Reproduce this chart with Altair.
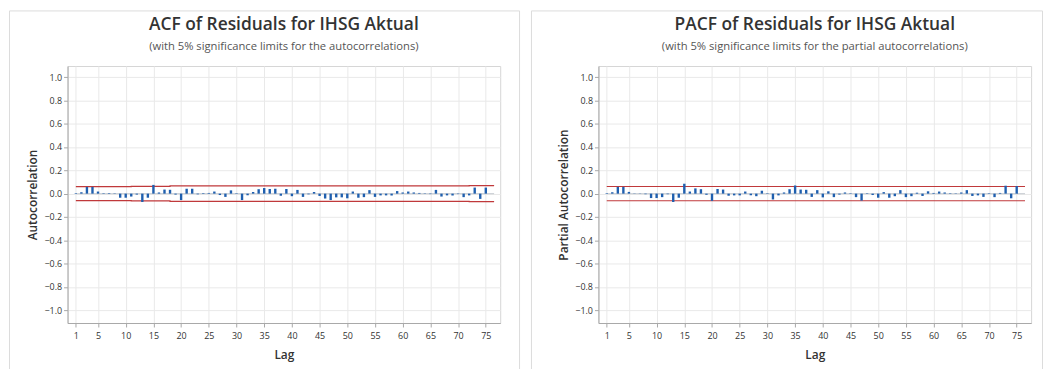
import altair as alt
import pandas as pd

# ---------------- data ----------------
lags = list(range(1, 76))

acf_values = [
    0.005, 0.012, 0.058, 0.058, 0.018, 0.004, 0.005, 0.003, -0.035, -0.035,
    -0.025, -0.008, -0.072, -0.035, 0.075, 0.010, 0.035, 0.033, -0.008, -0.055,
    0.042, 0.042, -0.006, 0.005, 0.006, 0.018, -0.012, -0.028, 0.028, 0.004,
    -0.055, -0.014, 0.014, 0.038, 0.048, 0.040, 0.042, -0.018, 0.040, -0.022,
    0.032, -0.028, -0.006, 0.014, -0.020, -0.042, -0.055, -0.032, -0.032, -0.040,
    0.018, -0.035, -0.030, 0.030, -0.028, -0.015, -0.015, -0.016, 0.022, 0.010,
    0.018, 0.010, 0.006, 0.003, -0.004, 0.032, -0.025, -0.015, -0.016, -0.004,
    -0.030, -0.015, 0.052, -0.045, 0.052,
]

pacf_values = [
    0.005, 0.012, 0.058, 0.058, 0.015, 0.002, 0.002, -0.005, -0.038, -0.038,
    -0.030, -0.005, -0.072, -0.035, 0.085, 0.018, 0.045, 0.038, -0.010, -0.062,
    0.040, 0.035, -0.018, -0.015, -0.015, 0.018, -0.014, -0.022, 0.025, 0.004,
    -0.050, -0.015, 0.010, 0.038, 0.070, 0.035, 0.033, -0.028, 0.030, -0.032,
    0.020, -0.030, -0.008, 0.010, 0.004, -0.030, -0.060, 0.004, -0.012, -0.035,
    0.013, -0.035, -0.022, 0.030, -0.030, -0.022, 0.008, -0.020, 0.020, 0.006,
    0.018, 0.010, 0.004, 0.003, 0.010, 0.030, -0.020, -0.015, -0.028, 0.004,
    -0.030, 0.006, 0.068, -0.040, 0.065,
]

# 5% significance limits (step functions over lag)
acf_limit_lags = [1, 11, 18, 72, 76.5]
acf_limit_values = [0.060, 0.062, 0.066, 0.068, 0.068]
pacf_limit_lags = [1, 76.5]
pacf_limit_values = [0.061, 0.061]

x_ticks = [1, 5, 10, 15, 20, 25, 30, 35, 40, 45, 50, 55, 60, 65, 70, 75]
y_ticks = [-1.0, -0.8, -0.6, -0.4, -0.2, 0.0, 0.2, 0.4, 0.6, 0.8, 1.0]

FONT = "Open Sans"
BAR = "#1f5fae"
RED = "#c0393b"

PLOT_W = 436
PLOT_H = 259


def panel(values, lim_lags, lim_vals, title, subtitle, ytitle, frame_left, frame_right):
    df = pd.DataFrame({"Lag": lags, "r": values})
    lim = pd.DataFrame({"Lag": lim_lags, "up": lim_vals,
                        "lo": [-v for v in lim_vals]})
    ref = pd.DataFrame({"a": [1], "b": [76.5], "z": [0.0]})
    one = pd.DataFrame({"k": [0]})

    xs = alt.Scale(domain=[-0.5, 77.6], nice=False, zero=False)
    ys = alt.Scale(domain=[-1.11, 1.095], nice=False, zero=False)

    xax = alt.Axis(values=x_ticks, title="Lag", grid=True)
    yax = alt.Axis(values=y_ticks, format=".1f", title=ytitle, grid=True)

    frame = alt.Chart(one).mark_rect(
        fillOpacity=0, stroke="#dcdcdc", strokeWidth=1
    ).encode(
        x=alt.value(frame_left), x2=alt.value(frame_right),
        y=alt.value(-55.5), y2=alt.value(318),
    )

    t1 = alt.Chart(one).mark_text(
        text=title, font=FONT, fontSize=17.5, fontWeight=600, color="#333333",
        align="center", baseline="middle",
    ).encode(x=alt.value(PLOT_W / 2), y=alt.value(-41.5))
    t2 = alt.Chart(one).mark_text(
        text=subtitle, font=FONT, fontSize=11.3, color="#555555",
        align="center", baseline="middle",
    ).encode(x=alt.value(PLOT_W / 2), y=alt.value(-19.5))

    zero = alt.Chart(ref).mark_rule(color="#cfd3d8", strokeWidth=1.2).encode(
        x=alt.X("a:Q", scale=xs, axis=xax), x2="b:Q",
        y=alt.Y("z:Q", scale=ys, axis=yax),
    )

    bars = alt.Chart(df).mark_rule(color=BAR, strokeWidth=2.4).encode(
        x=alt.X("Lag:Q", scale=xs, axis=xax),
        y=alt.Y("r:Q", scale=ys, axis=yax),
        y2=alt.datum(0),
    )

    up = alt.Chart(lim).mark_line(color=RED, strokeWidth=1.2,
                                  interpolate="step-after").encode(
        x=alt.X("Lag:Q", scale=xs, axis=xax),
        y=alt.Y("up:Q", scale=ys, axis=yax),
    )
    lo = alt.Chart(lim).mark_line(color=RED, strokeWidth=1.2,
                                  interpolate="step-after").encode(
        x=alt.X("Lag:Q", scale=xs, axis=xax),
        y=alt.Y("lo:Q", scale=ys, axis=yax),
    )

    return alt.layer(frame, t1, t2, zero, up, lo, bars).properties(
        width=PLOT_W, height=PLOT_H,
    )


left = panel(acf_values, acf_limit_lags, acf_limit_values,
             "ACF of Residuals for IHSG Aktual",
             "(with 5% significance limits for the autocorrelations)",
             "Autocorrelation", -58.5, 455.5)
right = panel(pacf_values, pacf_limit_lags, pacf_limit_values,
              "PACF of Residuals for IHSG Aktual",
              "(with 5% significance limits for the partial autocorrelations)",
              "Partial Autocorrelation", -67.5, 447.5)

chart = alt.hconcat(left, right, spacing=9).properties(
    padding={"left": 0, "right": 0, "top": 0, "bottom": 0},
    background="white",
).configure_view(
    stroke="#d6d6d6", strokeWidth=1,
).configure_axis(
    labelFont=FONT, labelFontSize=9, labelColor="#333333",
    titleFont=FONT, titleFontSize=12, titleFontWeight=600, titleColor="#333333",
    gridColor="#e9e9e9", gridWidth=1,
    domainColor="#a8a8a8", tickColor="#a8a8a8", tickSize=4,
    labelPadding=2,
).configure_axisX(
    labelPadding=5, titlePadding=9,
).configure_axisY(
    titlePadding=4,
)

chart.save("out.html", embed_options={"renderer": "svg", "actions": False})
